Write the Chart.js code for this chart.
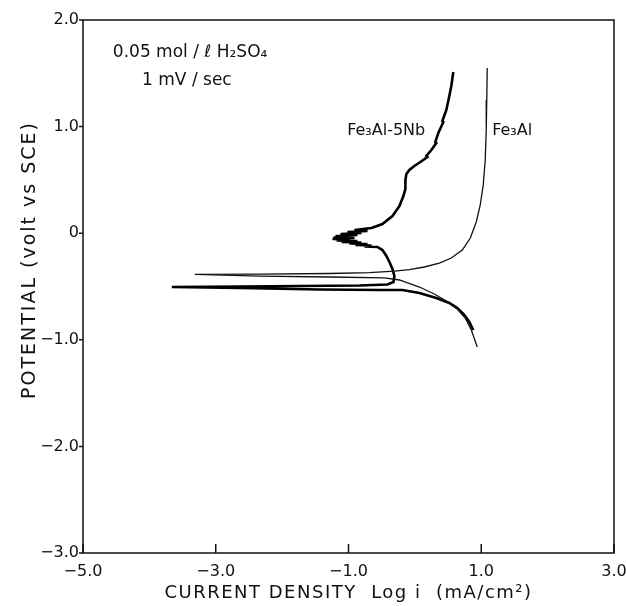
<!DOCTYPE html>
<html>
<head>
<meta charset="utf-8">
<script src="https://cdn.jsdelivr.net/npm/chart.js@4.4.1/dist/chart.umd.min.js"></script>
<style>
  html, body { margin: 0; padding: 0; background: #fff; }
  #wrap { width: 626px; height: 606px; }
</style>
</head>
<body>
<div id="wrap"><canvas id="chart" width="626" height="606"></canvas></div>
<script>
// Axis ticks
const xTickValues = [-5, -3, -1, 1, 3];
const xTickLabels = ['\u22125.0', '\u22123.0', '\u22121.0', '1.0', '3.0'];
const yTickValues = [2, 1, 0, -1, -2, -3];
const yTickLabels = ['2.0', '1.0', '0', '\u22121.0', '\u22122.0', '\u22123.0'];

// Fe3Al: anodic branch from top down to Ecorr spike, then cathodic branch
const fe3alX = [1.090, 1.083, 1.075, 1.060, 1.030, 0.985, 0.925, 0.835, 0.714, 0.549,
  0.368, 0.143, -0.083, -0.308, -0.684, -1.286, -2.338, -3.316,
  -2.338, -1.286, -0.459, -0.233, 0.068, 0.293, 0.474, 0.639, 0.759, 0.850, 0.940];
const fe3alV = [1.550, 1.250, 0.968, 0.687, 0.452, 0.265, 0.105, -0.045, -0.158, -0.233,
  -0.280, -0.317, -0.341, -0.355, -0.369, -0.378, -0.383, -0.387,
  -0.402, -0.411, -0.420, -0.439, -0.505, -0.570, -0.636, -0.711, -0.795, -0.908, -1.068];

// Fe3Al-5Nb: anodic (noisy) branch from top down, Ecorr spike, cathodic branch
const nbX = [0.579, 0.549, 0.519, 0.474, 0.414, 0.429, 0.353, 0.308, 0.323, 0.248,
  0.173, 0.188, 0.083, -0.008, -0.083, -0.128, -0.143, -0.143, -0.173, -0.233,
  -0.338, -0.489,
  -0.654, -0.910, -0.714, -1.015, -0.805, -1.120, -0.865, -1.195, -0.955, -1.226,
  -0.910, -1.241, -0.985, -1.180, -0.865, -1.105, -0.805, -0.985, -0.714, -0.895,
  -0.654, -0.759, -0.564,
  -0.489, -0.429, -0.383, -0.338, -0.308, -0.323, -0.414,
  -0.835, -1.737, -2.639, -3.662,
  -2.639, -1.436, -0.534, -0.188, 0.068, 0.323, 0.519, 0.639, 0.744, 0.820, 0.880];
const nbV = [1.512, 1.381, 1.287, 1.156, 1.053, 1.043, 0.940, 0.856, 0.846, 0.780,
  0.724, 0.715, 0.668, 0.630, 0.593, 0.555, 0.499, 0.415, 0.349, 0.255,
  0.161, 0.086,
  0.049, 0.030, 0.021, 0.011, 0.002, -0.008, -0.017, -0.026, -0.031, -0.040,
  -0.045, -0.054, -0.059, -0.068, -0.073, -0.083, -0.087, -0.097, -0.101, -0.111,
  -0.115, -0.125, -0.129,
  -0.158, -0.214, -0.270, -0.336, -0.402, -0.458, -0.481,
  -0.491, -0.495, -0.500, -0.505,
  -0.514, -0.528, -0.533, -0.533, -0.561, -0.608, -0.655, -0.702, -0.767, -0.833, -0.908];

// Text notes placed at data coordinates
const notes = [
  { text: '0.05 mol / \u2113 H\u2082SO\u2084', x: -4.55, y: 1.653, size: 17 },
  { text: '1 mV / sec', x: -4.11, y: 1.390, size: 17 },
  { text: 'Fe\u2083Al-5Nb', x: -1.02, y: 0.921, size: 16 },
  { text: 'Fe\u2083Al', x: 1.165, y: 0.921, size: 16 }
];

const FONT = '"DejaVu Sans", sans-serif';
const INK = '#111';

function toPoints(xs, ys) {
  return xs.map((x, i) => ({ x: x, y: ys[i] }));
}

// box around the plot, inward x ticks, outward y ticks
const framePlugin = {
  id: 'frame',
  afterDatasetsDraw(chart) {
    const { ctx, chartArea, scales } = chart;
    ctx.save();
    ctx.strokeStyle = INK;
    ctx.lineWidth = 1.5;
    ctx.strokeRect(chartArea.left, chartArea.top,
      chartArea.right - chartArea.left, chartArea.bottom - chartArea.top);
    ctx.beginPath();
    xTickValues.forEach(v => {
      const px = scales.x.getPixelForValue(v);
      ctx.moveTo(px, chartArea.bottom);
      ctx.lineTo(px, chartArea.bottom - 9);
    });
    yTickValues.forEach(v => {
      const py = scales.y.getPixelForValue(v);
      ctx.moveTo(chartArea.left, py);
      ctx.lineTo(chartArea.left - 4, py);
    });
    ctx.stroke();
    ctx.restore();
  }
};

// axis titles and notes
const textPlugin = {
  id: 'texts',
  afterDraw(chart) {
    const { ctx, scales, chartArea } = chart;
    ctx.save();
    ctx.fillStyle = INK;
    ctx.textBaseline = 'alphabetic';
    ctx.textAlign = 'left';
    notes.forEach(n => {
      ctx.font = n.size + 'px ' + FONT;
      ctx.fillText(n.text, scales.x.getPixelForValue(n.x), scales.y.getPixelForValue(n.y));
    });

    ctx.textAlign = 'center';
    ctx.textBaseline = 'middle';
    ctx.letterSpacing = '1.5px';
    ctx.font = '18px ' + FONT;
    ctx.fillText('CURRENT DENSITY  Log i  (mA/cm\u00b2)', (chartArea.left + chartArea.right) / 2, 593);

    ctx.letterSpacing = '2px';
    ctx.font = '19px ' + FONT;
    ctx.translate(30, 260);
    ctx.rotate(-Math.PI / 2);
    ctx.fillText('POTENTIAL (volt vs SCE)', 0, 0);
    ctx.restore();
  }
};

new Chart(document.getElementById('chart'), {
  type: 'scatter',
  data: {
    datasets: [{
      label: 'Fe3Al',
      data: toPoints(fe3alX, fe3alV),
      showLine: true,
      borderColor: INK,
      borderWidth: 1.3,
      pointRadius: 0,
      tension: 0
    }, {
      label: 'Fe3Al-5Nb',
      data: toPoints(nbX, nbV),
      showLine: true,
      borderColor: '#000',
      borderWidth: 2.6,
      pointRadius: 0,
      tension: 0
    }]
  },
  options: {
    responsive: false,
    animation: false,
    events: [],
    layout: { padding: { top: 20, right: 12, left: 0, bottom: 0 } },
    plugins: {
      legend: { display: false },
      tooltip: { enabled: false }
    },
    scales: {
      x: {
        type: 'linear',
        min: -5,
        max: 3,
        afterBuildTicks: s => { s.ticks = xTickValues.map(v => ({ value: v })); },
        afterFit: s => { s.height = 53; s.paddingLeft = 0; s.paddingRight = 0; },
        ticks: {
          color: INK,
          font: { family: FONT, size: 16 },
          padding: 9,
          maxRotation: 0,
          callback: v => xTickLabels[xTickValues.indexOf(v)]
        },
        grid: { display: false, drawTicks: false },
        border: { display: false }
      },
      y: {
        type: 'linear',
        min: -3,
        max: 2,
        afterBuildTicks: s => { s.ticks = yTickValues.map(v => ({ value: v })); },
        afterFit: s => { s.width = 83; s.paddingTop = 0; s.paddingBottom = 0; },
        ticks: {
          color: INK,
          font: { family: FONT, size: 16 },
          padding: 4,
          callback: v => yTickLabels[yTickValues.indexOf(v)]
        },
        grid: { display: false, drawTicks: false },
        border: { display: false }
      }
    }
  },
  plugins: [framePlugin, textPlugin]
});
</script>
</body>
</html>
